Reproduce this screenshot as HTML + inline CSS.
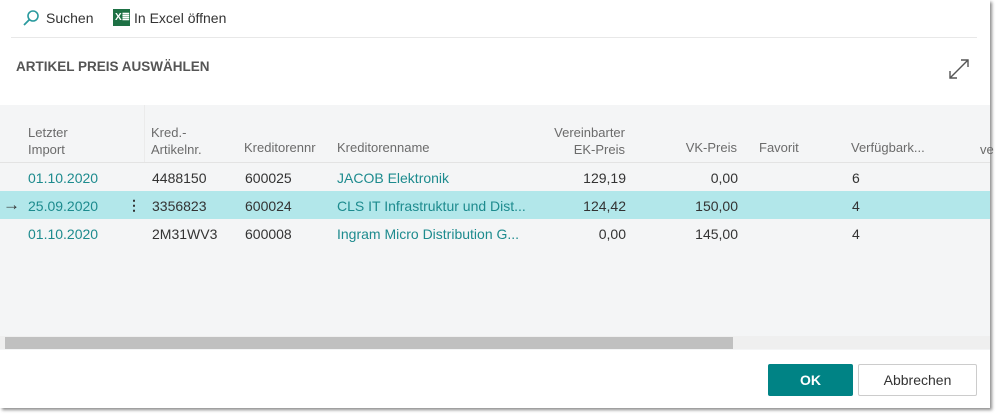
<!DOCTYPE html>
<html><head><meta charset="utf-8"><style>
*{margin:0;padding:0;box-sizing:border-box}
body{width:1000px;height:417px;background:#fff;font-family:"Liberation Sans",sans-serif;position:relative;overflow:hidden;color:#333}
.a{position:absolute;white-space:nowrap}
#dlg{position:absolute;left:0;top:0;width:990px;height:408px;background:#fff;box-shadow:2px 2px 3px rgba(0,0,0,.45)}
.h{color:#6b6b6b;font-size:13px;line-height:17px}
.c{font-size:14px}
.t{color:#1d8b8e}
.r{text-align:right}
</style></head><body>
<div id="dlg">
<svg class="a" style="left:22px;top:9px" width="18" height="18"><circle cx="11" cy="7" r="5" fill="none" stroke="#2a9a9e" stroke-width="1.6"/><line x1="7.5" y1="10.5" x2="2" y2="16" stroke="#2a9a9e" stroke-width="1.8"/></svg>
<div class="a" style="left:46px;top:10px;font-size:14px;color:#333">Suchen</div>
<div class="a" style="left:113px;top:9px;width:17px;height:17px;background:#1e7145;color:#fff;font-size:10px;font-weight:bold;line-height:17px;text-align:left;padding-left:2px">X≣</div>
<div class="a" style="left:134px;top:10px;font-size:14px;color:#333">In Excel öffnen</div>
<div class="a" style="left:11px;top:37px;width:966px;height:1px;background:#e8e8e8"></div>
<div class="a" style="left:16px;top:59px;font-size:13.5px;color:#555;font-weight:bold;letter-spacing:0">ARTIKEL PREIS AUSWÄHLEN</div>
<svg class="a" style="left:947px;top:57px" width="24" height="24"><g stroke="#555" stroke-width="1.4" fill="none"><line x1="3" y1="21" x2="21" y2="3"/><polyline points="3,14 3,21 10,21"/><polyline points="14,3 21,3 21,10"/></g></svg>
<div class="a" style="left:0;top:105px;width:990px;height:245px;background:#f4f5f6"></div>
<div class="a" style="left:144px;top:105px;width:1px;height:58px;background:#ebebeb"></div>
<div class="a" style="left:0;top:162px;width:990px;height:1px;background:#e3e3e3"></div>
<div class="a h" style="left:28px;top:124px">Letzter<br>Import</div>
<div class="a h" style="left:151px;top:124px">Kred.-<br>Artikelnr.</div>
<div class="a h" style="left:244px;top:139px">Kreditorennr</div>
<div class="a h" style="left:337px;top:139px">Kreditorenname</div>
<div class="a h r" style="left:525px;top:124px;width:100px">Vereinbarter<br>EK-Preis</div>
<div class="a h r" style="left:637px;top:139px;width:100px">VK-Preis</div>
<div class="a h" style="left:759px;top:139px">Favorit</div>
<div class="a h" style="left:851px;top:139px">Verfügbark...</div>
<div class="a h" style="left:980px;top:141px">ve</div>
<div class="a" style="left:0;top:191px;width:990px;height:28px;background:#b2e7ea"></div>
<div class="a c t" style="left:28px;top:170px">01.10.2020</div>
<div class="a c" style="left:152px;top:170px">4488150</div>
<div class="a c" style="left:245px;top:170px">600025</div>
<div class="a c t" style="left:337px;top:170px">JACOB Elektronik</div>
<div class="a c r" style="left:526px;top:170px;width:100px">129,19</div>
<div class="a c r" style="left:638px;top:170px;width:100px">0,00</div>
<div class="a c" style="left:852px;top:170px">6</div>
<div class="a" style="left:3px;top:195px;font-size:17px;color:#333">→</div>
<div class="a c t" style="left:28px;top:198px">25.09.2020</div>
<div class="a c" style="left:127px;top:197px;font-weight:bold">⋮</div>
<div class="a c" style="left:152px;top:198px">3356823</div>
<div class="a c" style="left:245px;top:198px">600024</div>
<div class="a c t" style="left:337px;top:198px">CLS IT Infrastruktur und Dist...</div>
<div class="a c r" style="left:526px;top:198px;width:100px">124,42</div>
<div class="a c r" style="left:638px;top:198px;width:100px">150,00</div>
<div class="a c" style="left:852px;top:198px">4</div>
<div class="a c t" style="left:28px;top:226px">01.10.2020</div>
<div class="a c" style="left:152px;top:226px">2M31WV3</div>
<div class="a c" style="left:245px;top:226px">600008</div>
<div class="a c t" style="left:337px;top:226px">Ingram Micro Distribution G...</div>
<div class="a c r" style="left:526px;top:226px;width:100px">0,00</div>
<div class="a c r" style="left:638px;top:226px;width:100px">145,00</div>
<div class="a c" style="left:852px;top:226px">4</div>
<div class="a" style="left:0;top:336px;width:990px;height:13px;background:#efefef"></div>
<div class="a" style="left:5px;top:337px;width:728px;height:12px;background:#c0c0c0"></div>
<div class="a" style="left:768px;top:364px;width:85px;height:32px;background:#008385;border-radius:2px;color:#fff;font-size:14px;font-weight:bold;text-align:center;line-height:32px">OK</div>
<div class="a" style="left:858px;top:364px;width:119px;height:32px;background:#fff;border:1px solid #ccc;border-radius:2px;color:#333;font-size:14px;text-align:center;line-height:30px">Abbrechen</div>
</div>
</body></html>
